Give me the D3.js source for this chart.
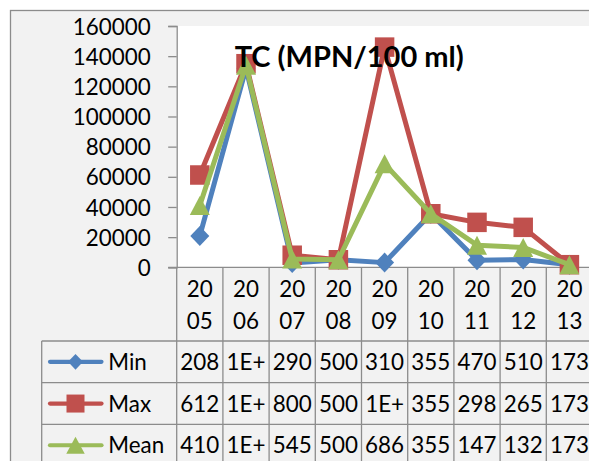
<!DOCTYPE html>
<html><head><meta charset="utf-8">
<script src="https://cdn.jsdelivr.net/npm/d3@7"></script>
<style>
html,body{margin:0;padding:0;background:#fff;}
svg{display:block;}
text{font-family:Lato,"Open Sans",sans-serif;fill:#000;}
</style></head>
<body>
<svg id="c" width="589" height="461"></svg>
<script>
const years = ["2005","2006","2007","2008","2009","2010","2011","2012","2013"];
const minVals  = [20800, 132000, 2900, 5000, 3100, 35500, 4700, 5100, 1730];
const maxVals  = [61200, 135000, 8000, 5000, 146000, 35500, 29800, 26500, 1730];
const meanVals = [41000, 134000, 5450, 5000, 68600, 35500, 14700, 13200, 1730];
const yTicks = [0, 20000, 40000, 60000, 80000, 100000, 120000, 140000, 160000];
const title = "TC (MPN/100 ml)";

const series = [
  {name:"Min",  values:minVals,  color:"#4F81BD", marker:"diamond"},
  {name:"Max",  values:maxVals,  color:"#C0504D", marker:"square"},
  {name:"Mean", values:meanVals, color:"#9BBB59", marker:"triangle"}
];

const svg = d3.select("#c");
const grid = "#8c8c8c";
const fs = 22.4;

// chart area
svg.append("rect").attr("x",10.5).attr("y",10.5).attr("width",700).attr("height",700)
  .attr("fill","#f2f2f2").attr("stroke",grid).attr("stroke-width",1.3);

const plotL = 176.7, plotT = 26, plotB = 267.3, colW = 46.2;
const x = d3.scaleBand().domain(years).range([plotL, plotL + colW*years.length]).padding(0);
const y = d3.scaleLinear().domain([0,160000]).range([plotB, plotT]);

// plot area
svg.append("rect").attr("x",plotL).attr("y",plotT).attr("width",colW*years.length+10).attr("height",plotB-plotT).attr("fill","#fff");

// y axis
const yAxis = d3.axisLeft(y).tickValues(yTicks).tickSize(8.5).tickPadding(17.5).tickFormat(d3.format("d"));
const gy = svg.append("g").attr("transform",`translate(${plotL},0)`).call(yAxis);
gy.select(".domain").attr("stroke",grid).attr("stroke-width",1.3);
gy.selectAll(".tick line").attr("stroke",grid).attr("stroke-width",1.3);
gy.selectAll(".tick text").attr("font-size",fs).attr("font-family","Lato").attr("fill","#000").attr("dy","0.36em");

// x axis line
svg.append("line").attr("x1",plotL-8.5).attr("x2",600).attr("y1",plotB).attr("y2",plotB).attr("stroke",grid).attr("stroke-width",1.3);

// table
const rowTop = 341, rowH = 41.7, legL = 41.7;
const tbl = svg.append("g");
x.domain().forEach(d => {
  tbl.append("line").attr("x1",x(d)).attr("x2",x(d)).attr("y1",plotB).attr("y2",470).attr("stroke",grid).attr("stroke-width",1.3);
});
tbl.append("line").attr("x1",legL).attr("x2",legL).attr("y1",rowTop).attr("y2",470).attr("stroke",grid).attr("stroke-width",1.3);
[0,1,2].forEach(i=>{
  tbl.append("line").attr("x1",legL).attr("x2",600).attr("y1",rowTop+i*rowH).attr("y2",rowTop+i*rowH).attr("stroke",grid).attr("stroke-width",1.3);
});
years.forEach(d=>{
  const cx = x(d)+x.bandwidth()/2;
  tbl.append("text").attr("x",cx).attr("y",296.7).attr("text-anchor","middle").attr("font-size",fs).text(d.slice(0,2));
  tbl.append("text").attr("x",cx).attr("y",329).attr("text-anchor","middle").attr("font-size",fs).text(d.slice(2));
});
const cellText = v => v >= 100000 ? "1E+" : String(v).slice(0,3);

function markerPath(type, cx, cy, s){
  if(type==="diamond"){ const w=s.dw/2, h=s.dh/2; return `M${cx},${cy-h}L${cx+w},${cy}L${cx},${cy+h}L${cx-w},${cy}Z`; }
  if(type==="square"){ const h=s.sq/2; return `M${cx-h},${cy-h}h${s.sq}v${s.sq}h${-s.sq}Z`; }
  const w=s.tw/2, h=s.th/2; return `M${cx},${cy-h}L${cx+w},${cy+h}L${cx-w},${cy+h}Z`;
}
const plotSize = {dw:19, dh:20, sq:19.5, tw:20, th:19};
const legSize = {dw:15, dh:15.7, sq:18, tw:18.5, th:17};

series.forEach((s,i)=>{
  const cy = rowTop + i*rowH + rowH/2;
  tbl.append("line").attr("x1",50).attr("x2",101.5).attr("y1",cy).attr("y2",cy)
    .attr("stroke",s.color).attr("stroke-width",4.2).attr("stroke-linecap","round");
  tbl.append("path").attr("d",markerPath(s.marker,75.5,cy,legSize)).attr("fill",s.color);
  tbl.append("text").attr("x",108.3).attr("y",cy).attr("dy","0.36em").attr("font-size",fs).text(s.name);
  s.values.forEach((v,j)=>{
    tbl.append("text").attr("x",x(years[j])+x.bandwidth()/2).attr("y",cy).attr("dy","0.36em")
      .attr("text-anchor","middle").attr("font-size",fs).text(cellText(v));
  });
});

// series
const line = d3.line().x((d,i)=>x(years[i])+x.bandwidth()/2).y(d=>y(d));
series.forEach(s=>{
  svg.append("path").attr("d",line(s.values)).attr("fill","none").attr("stroke",s.color)
    .attr("stroke-width",5).attr("stroke-linejoin","round").attr("stroke-linecap","round");
  s.values.forEach((v,j)=>{
    svg.append("path").attr("d",markerPath(s.marker,x(years[j])+x.bandwidth()/2,y(v),plotSize)).attr("fill",s.color);
  });
});

// title
svg.append("text").attr("x",349.2).attr("y",67.3).attr("text-anchor","middle")
  .attr("font-size",29).attr("font-weight","bold").text(title);
</script>
</body></html>
